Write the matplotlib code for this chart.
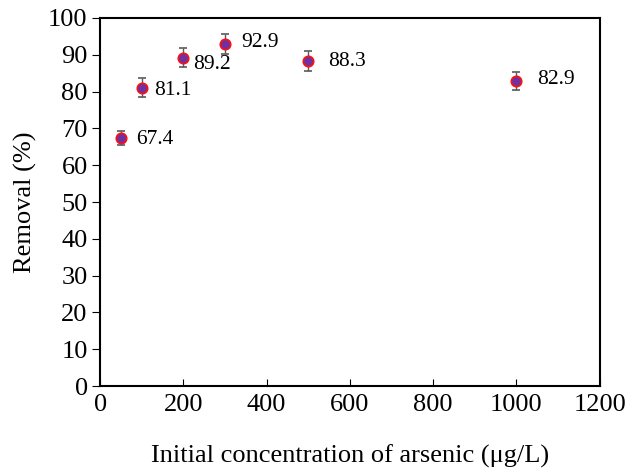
import matplotlib
matplotlib.use("Agg")
import matplotlib.pyplot as plt

conc = [50, 100, 200, 300, 500, 1000]
removal = [67.4, 81.1, 89.2, 92.9, 88.3, 82.9]
errors = [2.0, 2.5, 2.6, 2.8, 2.8, 2.5]
labels = ["67.4", "81.1", "89.2", "92.9", "88.3", "82.9"]
label_offsets = [(15, -2), (12, -3), (10, -7), (16, 2), (20, 0), (21, 1)]

plt.rcParams['font.family'] = ['Liberation Serif', 'DejaVu Serif']

fig = plt.figure(figsize=(6.38, 4.72), dpi=100)
ax = fig.add_axes([0.157, 0.182, 0.783, 0.780])

ax.errorbar(conc, removal, yerr=errors, fmt='o', color='#7030A0',
            markeredgecolor='#FF1010', markeredgewidth=1.2, markersize=7.5,
            ecolor='#5a5a5a', elinewidth=1, capsize=3, capthick=1)

for x, y, t, (dx, dy) in zip(conc, removal, labels, label_offsets):
    ax.annotate(t, (x, y), xytext=(dx, dy), textcoords='offset pixels',
                ha='left', va='center', fontsize=15.5)

ax.set_xlim(0, 1200)
ax.set_ylim(0, 100)
ax.set_xticks(range(0, 1201, 200))
ax.set_yticks(range(0, 101, 10))
ax.tick_params(axis='x', direction='in', labelsize=19, length=5, pad=6)
ax.tick_params(axis='y', direction='out', labelsize=19, length=6, pad=3)
for s in ax.spines.values():
    s.set_linewidth(1.5)

ax.set_xlabel('Initial concentration of arsenic (\u03bcg/L)', fontsize=19, labelpad=20)
ax.set_ylabel('Removal (%)', fontsize=19, labelpad=8)

fig.savefig('out.png', dpi=100)
